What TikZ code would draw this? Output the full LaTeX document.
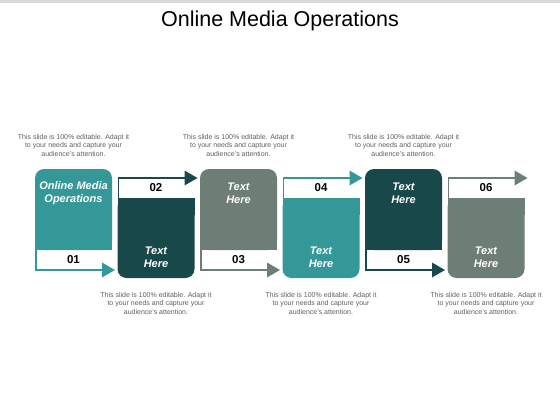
\documentclass[tikz,border=0pt]{standalone}
\usepackage{fontspec}
\setmainfont{Liberation Sans}
\definecolor{cteal}{RGB}{52,152,153}
\definecolor{cdark}{RGB}{24,72,74}
\definecolor{cgray}{RGB}{108,126,118}
\definecolor{ctext}{RGB}{95,95,95}
\definecolor{cbar}{RGB}{217,217,217}
\begin{document}
\begin{tikzpicture}[x=1pt,y=-1pt,
  boxtext/.style={text=white,font=\fontsize{11}{13}\selectfont\bfseries\itshape,align=center,inner sep=0},
  numtext/.style={text=black,font=\fontsize{11.5}{13}\selectfont\bfseries,inner sep=0},
  desc/.style={text=ctext,font=\fontsize{7}{8.5}\selectfont,align=center,inner sep=0},
  flow/.style={line width=1.6pt},
  titletext/.style={font=\fontsize{21.5}{25}\selectfont,inner sep=0,anchor=base}
]
\useasboundingbox (0,0) rectangle (560,420);
\fill[cbar] (0,0) rectangle (560,3);
\node[titletext] (title) at (280,26.7) {Online Media Operations};
% odd boxes: coloured top, white band below, arrow at bottom
\foreach \i/\x/\c/\t in {1/35/cteal/{Online Media\\Operations},3/200/cgray/{Text\\Here},5/365/cdark/{Text\\Here}}{
  \fill[\c,rounded corners=9pt] (\x,169) rectangle (\x+77,250);
  \fill[\c] (\x,230) rectangle (\x+77,250);
  \coordinate (a\i) at (\x+0.8,250);
  \coordinate (b\i) at (\x+0.8,270);
  \coordinate (c\i) at (\x+68,270);
  \draw[\c,flow] (a\i) -- (b\i) -- (c\i);
  \fill[\c] (\x+67,262.5) -- (\x+80,270) -- (\x+67,277.5) -- cycle;
  \node[numtext] (n\i) at (\x+38.5,260) {0\i};
  \node[boxtext] (t\i) at (\x+38.5,193) {\t};
  \node[desc] (d\i) at (\x+38.5,145) {This slide is 100\% editable. Adapt it\\to your needs and capture your\\audience's attention.};
}
% even boxes: arrow at top, white band, coloured bottom
\foreach \i/\x/\c in {2/117.5/cdark,4/282.5/cteal,6/447.5/cgray}{
  \fill[\c,rounded corners=9pt] (\x,198) rectangle (\x+77,278);
  \fill[\c] (\x,198) rectangle (\x+77,215);
  \coordinate (a\i) at (\x+0.8,198);
  \coordinate (b\i) at (\x+0.8,178);
  \coordinate (c\i) at (\x+68,178);
  \draw[\c,flow] (a\i) -- (b\i) -- (c\i);
  \fill[\c] (\x+67,170.5) -- (\x+80,178) -- (\x+67,185.5) -- cycle;
  \node[numtext] (n\i) at (\x+38.5,188) {0\i};
  \node[boxtext] (t\i) at (\x+38.5,257.5) {Text\\Here};
  \node[desc] (d\i) at (\x+38.5,303) {This slide is 100\% editable. Adapt it\\to your needs and capture your\\audience's attention.};
}
\end{tikzpicture}
\end{document}
